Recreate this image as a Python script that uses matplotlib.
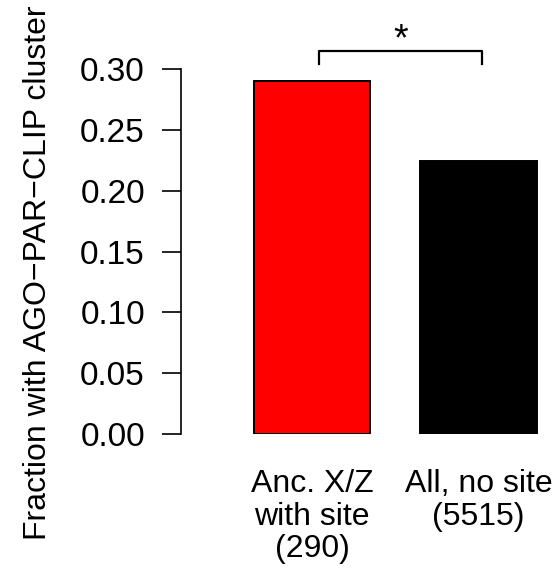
import matplotlib.pyplot as plt

plt.rcParams['font.family'] = ['Liberation Sans', 'DejaVu Sans']

categories = ["Anc. X/Z\nwith site\n(290)", "All, no site\n(5515)"]
fractions = [0.290, 0.224]
bar_colors = ["#ff0000", "#000000"]
y_ticks = [0.00, 0.05, 0.10, 0.15, 0.20, 0.25, 0.30]
star_label = "*"

W, H = 555, 570
fig = plt.figure(figsize=(W / 100, H / 100), dpi=100)

# axes box placed in pixels: y-axis at x=181, 0 at y=434, 0.30 at y=69
left, right = 181, 545
top, bottom = 69, 434
ax = fig.add_axes([left / W, 1 - bottom / H, (right - left) / W, (bottom - top) / H])

x = [0, 1]
ax.bar(x, fractions, width=0.7, color=bar_colors, edgecolor="black", linewidth=1.4)

ax.set_xlim(-0.787, 1.40)
ax.set_ylim(0, 0.30)
ax.set_yticks(y_ticks)
ax.set_yticklabels([f"{t:.2f}" for t in y_ticks])
ax.tick_params(axis="y", length=14, width=1.2, labelsize=24, pad=12)
ax.set_xticks([])
for s in ["top", "right", "bottom"]:
    ax.spines[s].set_visible(False)
ax.spines["left"].set_linewidth(1.2)

for xi, lab in zip(x, categories):
    ax.text(xi, -0.029, lab, ha="center", va="top", fontsize=23, linespacing=1.1,
            clip_on=False)

# significance bracket
bx0, bx1 = 0.04, 1.02
by, tick = 0.315, 0.0105
ax.plot([bx0, bx0, bx1, bx1], [by - tick, by, by, by - tick], color="black",
        lw=1.6, clip_on=False)
ax.text((bx0 + bx1) / 2, by - 0.006, star_label, ha="center", va="bottom",
        fontsize=27, clip_on=False)

fig.text(38 / W, 1 - 273 / H, "Fraction with AGO\u2212PAR\u2212CLIP cluster",
         rotation=90, ha="center", va="center", fontsize=23)

fig.savefig("out.png", dpi=100)
